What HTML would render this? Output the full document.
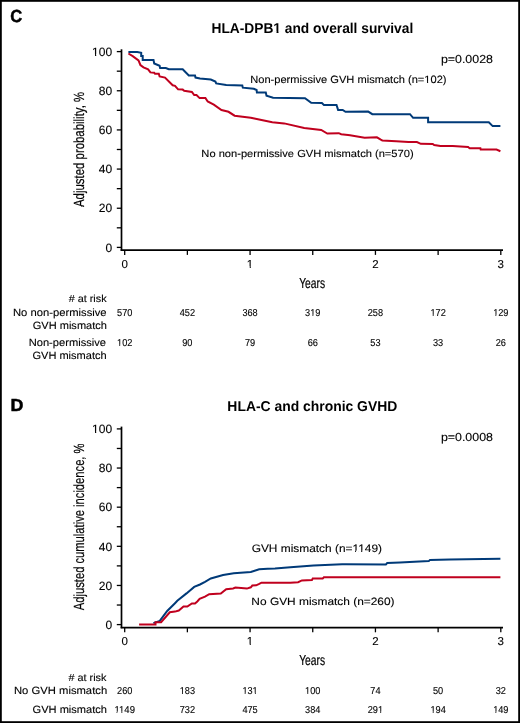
<!DOCTYPE html><html><head><meta charset="utf-8"><style>html,body{margin:0;padding:0;background:#fff;overflow:hidden;width:520px;height:723px;}svg{display:block;}text{font-family:"Liberation Sans",sans-serif;fill:#000;text-rendering:geometricPrecision;}text.r{stroke:#000;stroke-width:0.12px;}text.pl{stroke:#000;stroke-width:0.5px;}text.cd{stroke:#000;stroke-width:0.2px;}</style></head><body>
<svg width="520" height="723" viewBox="0 0 520 723">
<rect x="0" y="0" width="520" height="723" fill="#fff"/>
<rect x="0.9" y="0.9" width="518.2" height="721.2" fill="none" stroke="#000" stroke-width="1.8"/>
<g style="will-change:transform">
<text x="10.34" y="22.40" font-size="17.40" font-weight="bold" class="pl" textLength="11.95" lengthAdjust="spacingAndGlyphs" text-anchor="start">C</text>
<text x="10.42" y="410.60" font-size="17.40" font-weight="bold" class="pl" textLength="12.91" lengthAdjust="spacingAndGlyphs" text-anchor="start">D</text>
<text x="211.48" y="33.20" font-size="14.30" font-weight="bold" textLength="201.76" lengthAdjust="spacingAndGlyphs" text-anchor="start">HLA-DPB1 and overall survival</text>
<text x="227.37" y="410.70" font-size="14.30" font-weight="bold" textLength="169.92" lengthAdjust="spacingAndGlyphs" text-anchor="start">HLA-C and chronic GVHD</text>
<text x="440.90" y="63.10" font-size="11.60" class="r" textLength="52.07" lengthAdjust="spacingAndGlyphs" text-anchor="start">p=0.0028</text>
<text x="440.90" y="440.60" font-size="11.60" class="r" textLength="52.07" lengthAdjust="spacingAndGlyphs" text-anchor="start">p=0.0008</text>
<text x="250.21" y="82.80" font-size="10.60" class="r" textLength="196.33" lengthAdjust="spacingAndGlyphs" text-anchor="start">Non-permissive GVH mismatch (n=102)</text>
<text x="201.39" y="156.80" font-size="10.30" class="r" textLength="212.23" lengthAdjust="spacingAndGlyphs" text-anchor="start">No non-permissive GVH mismatch (n=570)</text>
<text x="251.65" y="552.10" font-size="10.80" class="r" textLength="130.37" lengthAdjust="spacingAndGlyphs" text-anchor="start">GVH mismatch (n=1149)</text>
<text x="251.36" y="604.80" font-size="10.60" class="r" textLength="143.17" lengthAdjust="spacingAndGlyphs" text-anchor="start">No GVH mismatch (n=260)</text>
<text transform="translate(84.00,0) rotate(-90)" x="-207.00" y="0" font-size="14.70" class="cd" textLength="115.15" lengthAdjust="spacingAndGlyphs" text-anchor="start">Adjusted probability, %</text>
<text transform="translate(84.00,0) rotate(-90)" x="-610.20" y="0" font-size="14.70" class="cd" textLength="166.74" lengthAdjust="spacingAndGlyphs" text-anchor="start">Adjusted cumulative incidence, %</text>
<text x="112.10" y="251.60" font-size="12.00" class="r" text-anchor="end">0</text>
<text x="112.10" y="212.44" font-size="12.00" class="r" text-anchor="end">20</text>
<text x="112.10" y="173.28" font-size="12.00" class="r" text-anchor="end">40</text>
<text x="112.10" y="134.12" font-size="12.00" class="r" text-anchor="end">60</text>
<text x="112.10" y="94.96" font-size="12.00" class="r" text-anchor="end">80</text>
<text x="112.10" y="55.80" font-size="12.00" class="r" text-anchor="end">100</text>
<text x="124.70" y="268.00" font-size="11.50" class="r" text-anchor="middle">0</text>
<text x="250.07" y="268.00" font-size="11.50" class="r" text-anchor="middle">1</text>
<text x="375.44" y="268.00" font-size="11.50" class="r" text-anchor="middle">2</text>
<text x="500.81" y="268.00" font-size="11.50" class="r" text-anchor="middle">3</text>
<text x="299.14" y="288.10" font-size="14.40" class="cd" textLength="25.94" lengthAdjust="spacingAndGlyphs" text-anchor="start">Years</text>
<text x="68.70" y="302.10" font-size="10.20" class="r" textLength="37.88" lengthAdjust="spacingAndGlyphs" text-anchor="start"># at risk</text>
<text x="112.10" y="628.80" font-size="12.00" class="r" text-anchor="end">0</text>
<text x="112.10" y="589.66" font-size="12.00" class="r" text-anchor="end">20</text>
<text x="112.10" y="550.52" font-size="12.00" class="r" text-anchor="end">40</text>
<text x="112.10" y="511.38" font-size="12.00" class="r" text-anchor="end">60</text>
<text x="112.10" y="472.24" font-size="12.00" class="r" text-anchor="end">80</text>
<text x="112.10" y="433.10" font-size="12.00" class="r" text-anchor="end">100</text>
<text x="124.70" y="645.40" font-size="11.50" class="r" text-anchor="middle">0</text>
<text x="250.07" y="645.40" font-size="11.50" class="r" text-anchor="middle">1</text>
<text x="375.44" y="645.40" font-size="11.50" class="r" text-anchor="middle">2</text>
<text x="500.81" y="645.40" font-size="11.50" class="r" text-anchor="middle">3</text>
<text x="299.14" y="665.40" font-size="14.40" class="cd" textLength="25.94" lengthAdjust="spacingAndGlyphs" text-anchor="start">Years</text>
<text x="68.50" y="680.70" font-size="10.20" class="r" textLength="37.88" lengthAdjust="spacingAndGlyphs" text-anchor="start"># at risk</text>
<text x="13.00" y="316.00" font-size="10.50" class="r" textLength="93.62" lengthAdjust="spacingAndGlyphs" text-anchor="start">No non-permissive</text>
<text x="32.77" y="329.00" font-size="10.50" class="r" textLength="74.15" lengthAdjust="spacingAndGlyphs" text-anchor="start">GVH mismatch</text>
<text x="28.70" y="345.90" font-size="10.50" class="r" textLength="77.36" lengthAdjust="spacingAndGlyphs" text-anchor="start">Non-permissive</text>
<text x="32.47" y="359.10" font-size="10.50" class="r" textLength="74.15" lengthAdjust="spacingAndGlyphs" text-anchor="start">GVH mismatch</text>
<text x="14.00" y="694.30" font-size="10.50" class="r" textLength="93.14" lengthAdjust="spacingAndGlyphs" text-anchor="start">No GVH mismatch</text>
<text x="32.57" y="713.10" font-size="10.50" class="r" textLength="74.45" lengthAdjust="spacingAndGlyphs" text-anchor="start">GVH mismatch</text>
<text x="124.70" y="316.20" font-size="10.00" class="r" textLength="15.35" lengthAdjust="spacingAndGlyphs" text-anchor="middle">570</text>
<text x="187.38" y="316.20" font-size="10.00" class="r" textLength="15.35" lengthAdjust="spacingAndGlyphs" text-anchor="middle">452</text>
<text x="250.07" y="316.20" font-size="10.00" class="r" textLength="15.35" lengthAdjust="spacingAndGlyphs" text-anchor="middle">368</text>
<text x="312.75" y="316.20" font-size="10.00" class="r" textLength="15.35" lengthAdjust="spacingAndGlyphs" text-anchor="middle">319</text>
<text x="375.44" y="316.20" font-size="10.00" class="r" textLength="15.35" lengthAdjust="spacingAndGlyphs" text-anchor="middle">258</text>
<text x="438.12" y="316.20" font-size="10.00" class="r" textLength="15.35" lengthAdjust="spacingAndGlyphs" text-anchor="middle">172</text>
<text x="500.81" y="316.20" font-size="10.00" class="r" textLength="15.35" lengthAdjust="spacingAndGlyphs" text-anchor="middle">129</text>
<text x="124.70" y="346.10" font-size="10.00" class="r" textLength="15.35" lengthAdjust="spacingAndGlyphs" text-anchor="middle">102</text>
<text x="187.38" y="346.10" font-size="10.00" class="r" textLength="10.23" lengthAdjust="spacingAndGlyphs" text-anchor="middle">90</text>
<text x="250.07" y="346.10" font-size="10.00" class="r" textLength="10.23" lengthAdjust="spacingAndGlyphs" text-anchor="middle">79</text>
<text x="312.75" y="346.10" font-size="10.00" class="r" textLength="10.23" lengthAdjust="spacingAndGlyphs" text-anchor="middle">66</text>
<text x="375.44" y="346.10" font-size="10.00" class="r" textLength="10.23" lengthAdjust="spacingAndGlyphs" text-anchor="middle">53</text>
<text x="438.12" y="346.10" font-size="10.00" class="r" textLength="10.23" lengthAdjust="spacingAndGlyphs" text-anchor="middle">33</text>
<text x="500.81" y="346.10" font-size="10.00" class="r" textLength="10.23" lengthAdjust="spacingAndGlyphs" text-anchor="middle">26</text>
<text x="124.70" y="694.20" font-size="10.00" class="r" textLength="15.35" lengthAdjust="spacingAndGlyphs" text-anchor="middle">260</text>
<text x="187.38" y="694.20" font-size="10.00" class="r" textLength="15.35" lengthAdjust="spacingAndGlyphs" text-anchor="middle">183</text>
<text x="250.07" y="694.20" font-size="10.00" class="r" textLength="15.35" lengthAdjust="spacingAndGlyphs" text-anchor="middle">131</text>
<text x="312.75" y="694.20" font-size="10.00" class="r" textLength="15.35" lengthAdjust="spacingAndGlyphs" text-anchor="middle">100</text>
<text x="375.44" y="694.20" font-size="10.00" class="r" textLength="10.23" lengthAdjust="spacingAndGlyphs" text-anchor="middle">74</text>
<text x="438.12" y="694.20" font-size="10.00" class="r" textLength="10.23" lengthAdjust="spacingAndGlyphs" text-anchor="middle">50</text>
<text x="500.81" y="694.20" font-size="10.00" class="r" textLength="10.23" lengthAdjust="spacingAndGlyphs" text-anchor="middle">32</text>
<text x="124.70" y="713.00" font-size="10.00" class="r" textLength="20.46" lengthAdjust="spacingAndGlyphs" text-anchor="middle">1149</text>
<text x="187.38" y="713.00" font-size="10.00" class="r" textLength="15.35" lengthAdjust="spacingAndGlyphs" text-anchor="middle">732</text>
<text x="250.07" y="713.00" font-size="10.00" class="r" textLength="15.35" lengthAdjust="spacingAndGlyphs" text-anchor="middle">475</text>
<text x="312.75" y="713.00" font-size="10.00" class="r" textLength="15.35" lengthAdjust="spacingAndGlyphs" text-anchor="middle">384</text>
<text x="375.44" y="713.00" font-size="10.00" class="r" textLength="15.35" lengthAdjust="spacingAndGlyphs" text-anchor="middle">291</text>
<text x="438.12" y="713.00" font-size="10.00" class="r" textLength="15.35" lengthAdjust="spacingAndGlyphs" text-anchor="middle">194</text>
<text x="500.81" y="713.00" font-size="10.00" class="r" textLength="15.35" lengthAdjust="spacingAndGlyphs" text-anchor="middle">149</text>
</g>
<g fill="#fff"><rect x="273.21" y="31.09" width="3.30" height="2.81"/><rect x="278.50" y="31.09" width="3.13" height="2.81"/><rect x="424.36" y="81.36" width="2.71" height="2.14"/><rect x="428.15" y="81.36" width="2.63" height="2.14"/><rect x="352.49" y="550.64" width="2.52" height="2.16"/><rect x="356.02" y="550.64" width="2.44" height="2.16"/><rect x="358.23" y="550.64" width="2.91" height="2.16"/><rect x="362.29" y="550.64" width="2.82" height="2.16"/><rect x="92.10" y="54.25" width="2.94" height="2.25"/><rect x="96.21" y="54.25" width="2.84" height="2.25"/><rect x="246.90" y="266.49" width="2.81" height="2.21"/><rect x="250.83" y="266.49" width="2.72" height="2.21"/><rect x="92.10" y="431.55" width="2.94" height="2.25"/><rect x="96.21" y="431.55" width="2.84" height="2.25"/><rect x="246.90" y="643.89" width="2.81" height="2.21"/><rect x="250.83" y="643.89" width="2.72" height="2.21"/><rect x="310.20" y="314.80" width="2.24" height="2.10"/><rect x="313.36" y="314.80" width="2.17" height="2.10"/><rect x="430.47" y="314.80" width="2.24" height="2.10"/><rect x="433.62" y="314.80" width="2.16" height="2.10"/><rect x="493.16" y="314.80" width="2.24" height="2.10"/><rect x="496.31" y="314.80" width="2.16" height="2.10"/><rect x="117.05" y="344.70" width="2.24" height="2.10"/><rect x="120.20" y="344.70" width="2.16" height="2.10"/><rect x="179.73" y="692.80" width="2.24" height="2.10"/><rect x="182.88" y="692.80" width="2.16" height="2.10"/><rect x="242.42" y="692.80" width="2.24" height="2.10"/><rect x="245.57" y="692.80" width="2.16" height="2.10"/><rect x="252.64" y="692.80" width="2.24" height="2.10"/><rect x="255.80" y="692.80" width="2.17" height="2.10"/><rect x="305.10" y="692.80" width="2.24" height="2.10"/><rect x="308.25" y="692.80" width="2.16" height="2.10"/><rect x="114.49" y="711.60" width="2.00" height="2.10"/><rect x="117.33" y="711.60" width="1.94" height="2.10"/><rect x="119.07" y="711.60" width="2.32" height="2.10"/><rect x="122.34" y="711.60" width="2.25" height="2.10"/><rect x="378.01" y="711.60" width="2.24" height="2.10"/><rect x="381.17" y="711.60" width="2.17" height="2.10"/><rect x="430.47" y="711.60" width="2.24" height="2.10"/><rect x="433.62" y="711.60" width="2.16" height="2.10"/><rect x="493.16" y="711.60" width="2.24" height="2.10"/><rect x="496.31" y="711.60" width="2.16" height="2.10"/></g>
<path d="M121.5,49.30 V250.80" stroke="#000" stroke-width="1.7" fill="none"/>
<path d="M120.65,250.20 H503" stroke="#000" stroke-width="1.7" fill="none"/>
<path d="M116.8,247.40 H121" stroke="#000" stroke-width="1.3"/>
<path d="M116.8,227.82 H121" stroke="#000" stroke-width="1.3"/>
<path d="M116.8,208.24 H121" stroke="#000" stroke-width="1.3"/>
<path d="M116.8,188.66 H121" stroke="#000" stroke-width="1.3"/>
<path d="M116.8,169.08 H121" stroke="#000" stroke-width="1.3"/>
<path d="M116.8,149.50 H121" stroke="#000" stroke-width="1.3"/>
<path d="M116.8,129.92 H121" stroke="#000" stroke-width="1.3"/>
<path d="M116.8,110.34 H121" stroke="#000" stroke-width="1.3"/>
<path d="M116.8,90.76 H121" stroke="#000" stroke-width="1.3"/>
<path d="M116.8,71.18 H121" stroke="#000" stroke-width="1.3"/>
<path d="M116.8,51.60 H121" stroke="#000" stroke-width="1.3"/>
<path d="M124.70,250.70 V254.90" stroke="#000" stroke-width="1.3"/>
<path d="M187.38,250.70 V254.90" stroke="#000" stroke-width="1.3"/>
<path d="M250.07,250.70 V254.90" stroke="#000" stroke-width="1.3"/>
<path d="M312.75,250.70 V254.90" stroke="#000" stroke-width="1.3"/>
<path d="M375.44,250.70 V254.90" stroke="#000" stroke-width="1.3"/>
<path d="M438.12,250.70 V254.90" stroke="#000" stroke-width="1.3"/>
<path d="M500.81,250.70 V254.90" stroke="#000" stroke-width="1.3"/>
<path d="M121.5,426.60 V628.20" stroke="#000" stroke-width="1.7" fill="none"/>
<path d="M120.65,627.60 H503" stroke="#000" stroke-width="1.7" fill="none"/>
<path d="M116.8,624.60 H121" stroke="#000" stroke-width="1.3"/>
<path d="M116.8,605.03 H121" stroke="#000" stroke-width="1.3"/>
<path d="M116.8,585.46 H121" stroke="#000" stroke-width="1.3"/>
<path d="M116.8,565.89 H121" stroke="#000" stroke-width="1.3"/>
<path d="M116.8,546.32 H121" stroke="#000" stroke-width="1.3"/>
<path d="M116.8,526.75 H121" stroke="#000" stroke-width="1.3"/>
<path d="M116.8,507.18 H121" stroke="#000" stroke-width="1.3"/>
<path d="M116.8,487.61 H121" stroke="#000" stroke-width="1.3"/>
<path d="M116.8,468.04 H121" stroke="#000" stroke-width="1.3"/>
<path d="M116.8,448.47 H121" stroke="#000" stroke-width="1.3"/>
<path d="M116.8,428.90 H121" stroke="#000" stroke-width="1.3"/>
<path d="M124.70,628.10 V632.30" stroke="#000" stroke-width="1.3"/>
<path d="M187.38,628.10 V632.30" stroke="#000" stroke-width="1.3"/>
<path d="M250.07,628.10 V632.30" stroke="#000" stroke-width="1.3"/>
<path d="M312.75,628.10 V632.30" stroke="#000" stroke-width="1.3"/>
<path d="M375.44,628.10 V632.30" stroke="#000" stroke-width="1.3"/>
<path d="M438.12,628.10 V632.30" stroke="#000" stroke-width="1.3"/>
<path d="M500.81,628.10 V632.30" stroke="#000" stroke-width="1.3"/>
<polyline points="128.4,51.9 137.3,51.9 141.2,52.7 141.2,56.1 142.7,56.1 142.7,59.9 153.5,59.9 154.2,63.5 159.6,65.8 160.1,68.1 165.8,68.1 168.8,69.3 182.7,69.3 188.8,75.5 195.0,75.5 195.5,77.6 200.0,78.5 210.8,79.5 215.4,81.5 216.2,83.4 226.2,85.1 242.3,85.4 242.8,87.7 253.8,88.8 256.6,90.0 256.9,92.6 265.8,92.6 266.5,95.7 273.1,97.7 305.0,98.2 311.2,102.8 321.9,103.1 323.9,104.9 336.5,104.9 337.3,107.4 338.1,110.0 342.7,110.0 345.5,111.8 368.2,111.6 372.3,114.2 410.0,114.2 413.1,117.8 428.1,117.8 428.1,122.2 488.8,122.2 492.7,126.1 500.4,126.1" fill="none" stroke="#003a78" stroke-width="2" stroke-linejoin="miter" stroke-miterlimit="2"/>
<polyline points="128.4,53.5 132.7,56.1 138.5,60.4 140.4,65.0 143.5,67.3 148.1,69.3 150.4,72.4 154.2,72.7 155.0,73.8 158.8,73.8 159.6,76.5 165.0,77.6 172.7,85.3 175.0,85.8 178.1,89.3 182.7,89.6 184.2,90.8 191.9,91.9 194.2,95.0 196.5,95.0 199.6,98.1 205.4,97.9 207.7,101.5 213.8,104.6 221.5,110.0 228.5,111.8 234.6,115.7 250.8,117.7 261.5,120.0 272.3,122.3 284.2,123.4 304.2,128.0 321.2,130.0 327.3,133.5 338.8,133.2 341.2,134.2 350.0,135.3 364.6,137.8 376.9,137.3 380.8,139.6 382.3,140.4 396.2,141.2 408.5,142.1 416.9,142.1 420.8,143.8 432.7,143.9 434.2,145.0 440.4,146.1 452.7,146.1 468.1,147.0 469.6,148.2 480.4,148.2 480.7,149.6 496.5,149.6 500.4,151.2" fill="none" stroke="#c0001e" stroke-width="2" stroke-linejoin="miter" stroke-miterlimit="2"/>
<polyline points="153.4,623.1 159.8,620.9 167.2,611.0 175.0,603.2 177.3,600.8 186.5,593.4 194.2,586.9 200.0,584.5 205.0,581.8 210.8,578.5 223.1,575.0 233.8,573.2 250.8,571.9 259.2,569.3 267.7,568.8 275.0,568.6 290.4,567.3 313.5,565.5 342.1,564.2 385.9,564.4 387.2,563.1 400.0,562.4 428.8,561.1 430.0,559.9 450.0,559.6 500.4,558.8" fill="none" stroke="#003a78" stroke-width="2" stroke-linejoin="miter" stroke-miterlimit="2"/>
<polyline points="139.1,624.6 155.5,624.6 155.5,622.2 161.1,622.2 169.8,612.3 175.0,611.6 178.8,610.5 183.5,606.6 187.3,606.6 191.9,603.5 195.0,603.5 197.3,601.5 199.6,598.9 205.0,596.7 209.2,594.2 220.8,593.5 226.2,589.2 233.1,588.5 235.4,587.6 246.9,588.6 250.8,587.3 252.3,585.5 256.2,585.3 259.2,583.9 261.5,582.7 290.4,582.8 298.1,582.2 301.9,580.4 311.9,580.1 312.7,578.5 322.7,578.5 323.9,577.3 500.4,577.3" fill="none" stroke="#c0001e" stroke-width="2" stroke-linejoin="miter" stroke-miterlimit="2"/>
</svg></body></html>
